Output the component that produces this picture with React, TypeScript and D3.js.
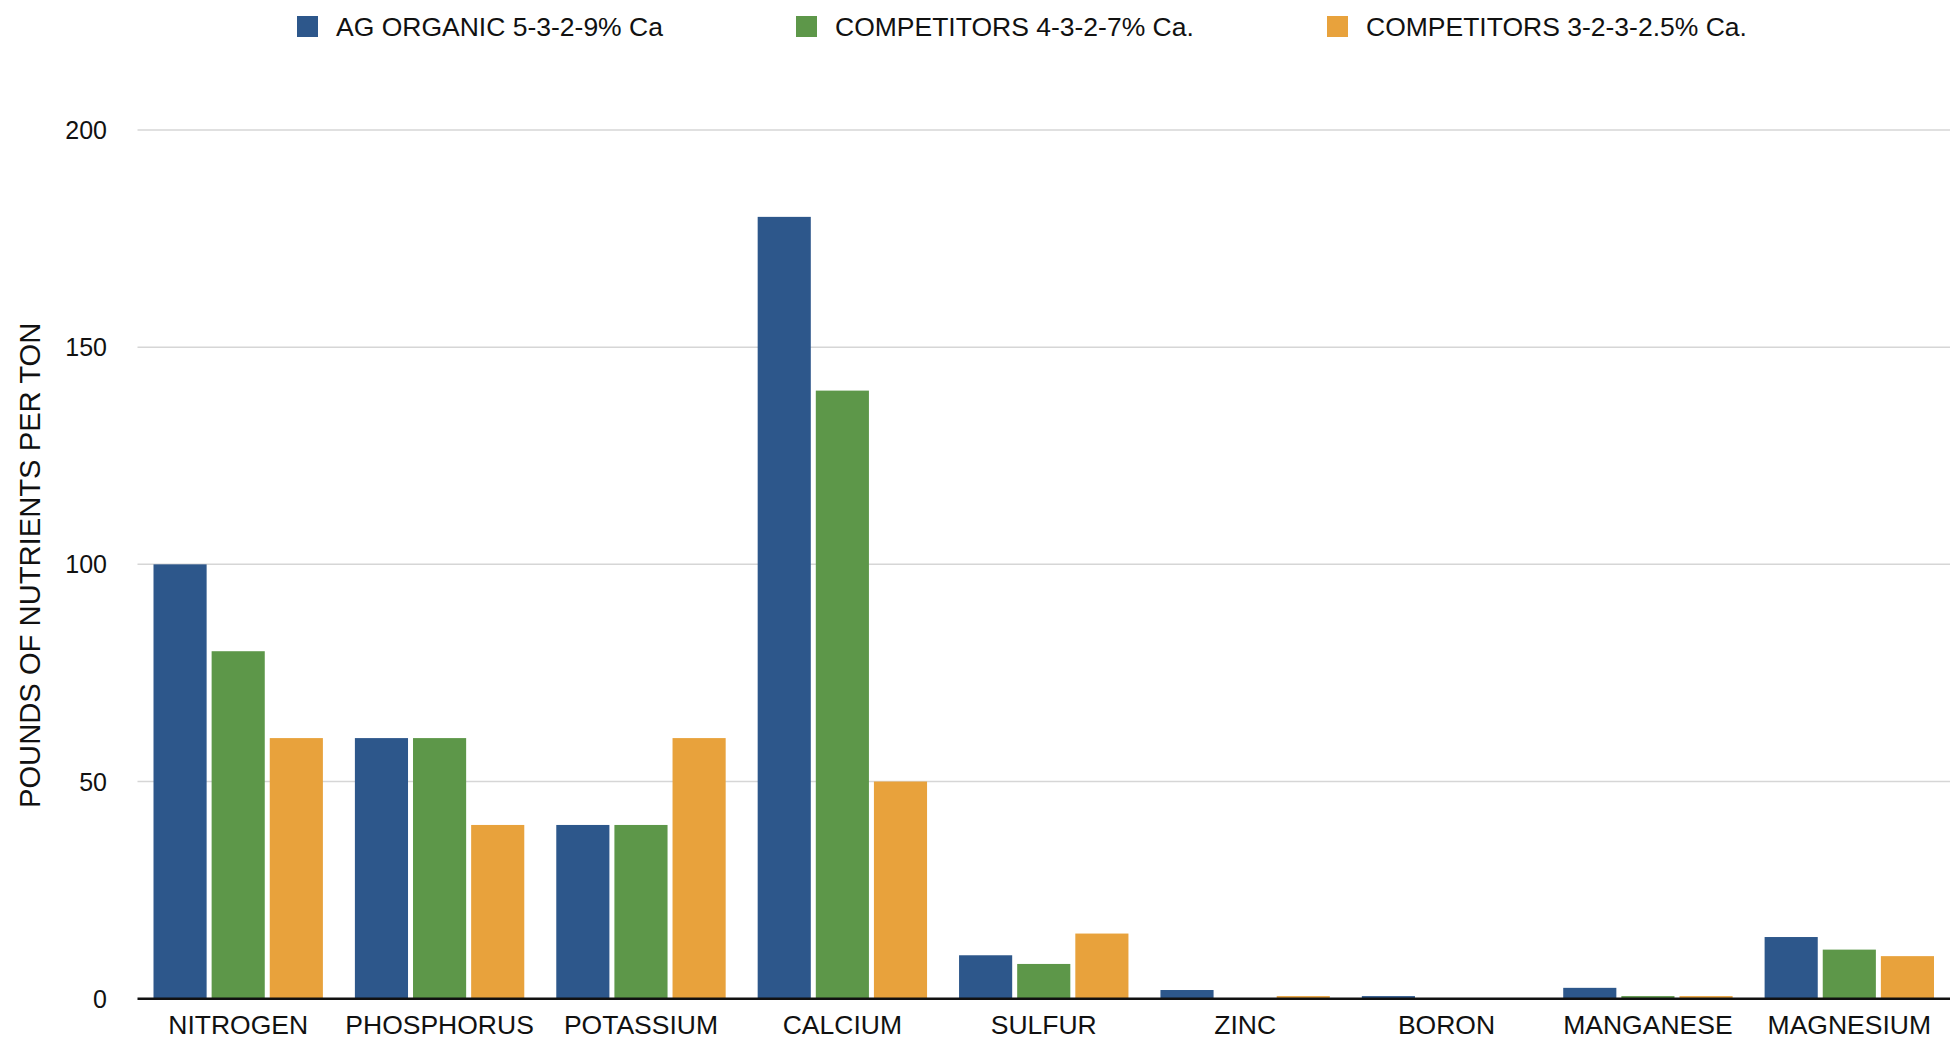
import { scaleBand, scaleLinear } from 'd3'

const WIDTH = 1960
const HEIGHT = 1039
const MARGIN = { left: 137.5, right: 10, top: 130, bottom: 40.3 }

const categories = [
  'NITROGEN',
  'PHOSPHORUS',
  'POTASSIUM',
  'CALCIUM',
  'SULFUR',
  'ZINC',
  'BORON',
  'MANGANESE',
  'MAGNESIUM',
]

const seriesNames = [
  'AG ORGANIC 5-3-2-9% Ca',
  'COMPETITORS 4-3-2-7% Ca.',
  'COMPETITORS 3-2-3-2.5% Ca.',
]

const agOrganic = [100, 60, 40, 180, 10, 2, 0.6, 2.5, 14.2]
const competitorsA = [80, 60, 40, 140, 8, 0, 0, 0.6, 11.3]
const competitorsB = [60, 40, 60, 50, 15, 0.6, 0, 0.6, 9.8]

const yTicks = [0, 50, 100, 150, 200]

const colors = ['#2d578b', '#5d9749', '#e8a23c']
const legendX = [297, 796, 1327]

const FONT = '"Liberation Sans", Arial, Helvetica, sans-serif'

export default function App() {
  const series = [agOrganic, competitorsA, competitorsB]
  const plotBottom = HEIGHT - MARGIN.bottom

  const x0 = scaleBand<string>()
    .domain(categories)
    .range([MARGIN.left, WIDTH - MARGIN.right])
  // bars inside each category group
  const x1 = scaleBand<number>()
    .domain([0, 1, 2])
    .range([16, x0.bandwidth() - 16])
    .paddingInner(0.086)
  const y = scaleLinear().domain([0, 200]).range([plotBottom, MARGIN.top])

  return (
    <svg
      width={WIDTH}
      height={HEIGHT}
      style={{ position: 'absolute', left: 0, top: 0, background: '#fff' }}
      fontFamily={FONT}
    >
      <rect width={WIDTH} height={HEIGHT} fill="#fff" />

      {/* legend */}
      {seriesNames.map((name, i) => (
        <g key={name}>
          <rect x={legendX[i]} y={16} width={21} height={21} fill={colors[i]} />
          <text x={legendX[i] + 39} y={36} fontSize={26.5} fill="#111">
            {name}
          </text>
        </g>
      ))}

      {/* grid */}
      {yTicks.filter((t) => t > 0).map((t) => (
        <line
          key={t}
          x1={MARGIN.left}
          x2={WIDTH - MARGIN.right}
          y1={y(t)}
          y2={y(t)}
          stroke="#d6d6d6"
          strokeWidth={1.5}
        />
      ))}
      {yTicks.map((t) => (
        <text
          key={t}
          x={107}
          y={y(t)}
          dy="0.36em"
          textAnchor="end"
          fontSize={25}
          fill="#111"
        >
          {t}
        </text>
      ))}

      <text
        transform={`translate(40, ${(y(0) + y(200)) / 2 + 1}) rotate(-90)`}
        textAnchor="middle"
        fontSize={29.2}
        fill="#111"
      >
        POUNDS OF NUTRIENTS PER TON
      </text>

      {/* bars */}
      {categories.map((cat, ci) => (
        <g key={cat} transform={`translate(${x0(cat)}, 0)`}>
          {series.map((values, si) => (
            <rect
              key={si}
              x={x1(si)}
              y={y(values[ci])}
              width={x1.bandwidth()}
              height={plotBottom - y(values[ci])}
              fill={colors[si]}
            />
          ))}
        </g>
      ))}

      <line
        x1={MARGIN.left}
        x2={WIDTH - MARGIN.right}
        y1={plotBottom}
        y2={plotBottom}
        stroke="#111"
        strokeWidth={2.5}
      />

      {categories.map((cat) => (
        <text
          key={cat}
          x={(x0(cat) ?? 0) + x0.bandwidth() / 2}
          y={1034}
          textAnchor="middle"
          fontSize={26.5}
          fill="#111"
        >
          {cat}
        </text>
      ))}
    </svg>
  )
}
